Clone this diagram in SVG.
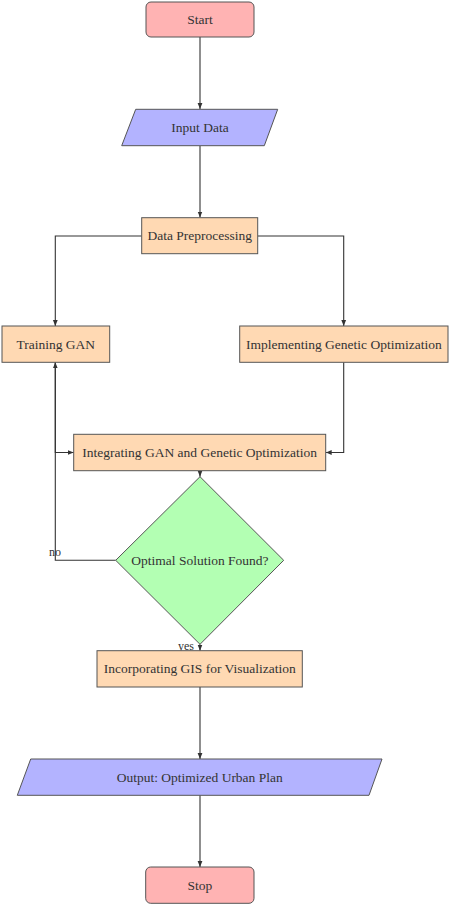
<svg xmlns="http://www.w3.org/2000/svg" width="450" height="905" viewBox="0 0 450 905" font-family="'DejaVu Serif', 'Liberation Serif', serif">
<defs>
<marker id="arr" viewBox="0 0 6 6" refX="6" refY="3" markerWidth="6" markerHeight="6" markerUnits="userSpaceOnUse" orient="auto">
<path d="M0,0.6 L6,3 L0,5.4 z" fill="#333"/>
</marker>
<style>
.term{fill:#ffb3b3;stroke:#555;stroke-width:1}
.io{fill:#b3b3ff;stroke:#555;stroke-width:1}
.proc{fill:#ffd9b3;stroke:#555;stroke-width:1}
.dec{fill:#b3ffb3;stroke:#555;stroke-width:1}
text{font-family:'Liberation Serif','DejaVu Serif',serif;font-size:13.5px;fill:#333;text-anchor:middle;dominant-baseline:central}
.lbl{font-size:12px}
.c{fill:none;stroke:#333;stroke-width:1.1;marker-end:url(#arr)}
</style>
</defs>
<rect width="450" height="905" fill="#fff"/>
<g id="connectors">
<path class="c" d="M200,37 V109"/>
<path class="c" d="M200,146 V217.5"/>
<path class="c" d="M141.7,236 H55.3 V326"/>
<path class="c" d="M257.7,236 H343.7 V326"/>
<path class="c" d="M343.7,362.3 V452.5 H325.7"/>
<path class="c" d="M55.3,362.3 V452.5 H73.7"/>
<path class="c" d="M200,470.7 V476.7"/>
<path class="c" d="M115.7,560.3 H55.3 V362.3"/>
<path class="c" d="M200,644.3 V650.7"/>
<path class="c" d="M200,687 V759"/>
<path class="c" d="M200,795.3 V867"/>
<text class="lbl" x="55" y="552">no</text>
<text class="lbl" x="186" y="646">yes</text>
</g>
<g id="start"><rect class="term" x="146" y="2" width="108" height="35" rx="5"/><text x="200" y="19.5">Start</text></g>
<g id="input"><polygon class="io" points="135.7,109.3 277.7,109.3 264.3,145.7 121.7,145.7"/><text x="200" y="127.5">Input Data</text></g>
<g id="preprocess"><rect class="proc" x="141.7" y="217.7" width="116" height="36"/><text x="199.7" y="235.7">Data Preprocessing</text></g>
<g id="traingan"><rect class="proc" x="2" y="326" width="107.7" height="36.3"/><text x="55.8" y="344.2">Training GAN</text></g>
<g id="genetic"><rect class="proc" x="239.7" y="326" width="208.3" height="36.3"/><text x="343.8" y="344.2">Implementing Genetic Optimization</text></g>
<g id="integrate"><rect class="proc" x="73.7" y="434.3" width="252" height="36.4"/><text x="199.7" y="452.5">Integrating GAN and Genetic Optimization</text></g>
<g id="decision"><polygon class="dec" points="200,476.7 283.7,560.3 200,644.3 115.7,560.3"/><text x="200" y="560.3">Optimal Solution Found?</text></g>
<g id="gis"><rect class="proc" x="97" y="650.7" width="205.3" height="36.3"/><text x="199.7" y="668.8">Incorporating GIS for Visualization</text></g>
<g id="output"><polygon class="io" points="30.7,759 382,759 369,795.3 17.3,795.3"/><text x="199.7" y="777.2">Output: Optimized Urban Plan</text></g>
<g id="stop"><rect class="term" x="145.7" y="867" width="108.3" height="36.3" rx="5"/><text x="199.8" y="885.2">Stop</text></g>
</svg>
